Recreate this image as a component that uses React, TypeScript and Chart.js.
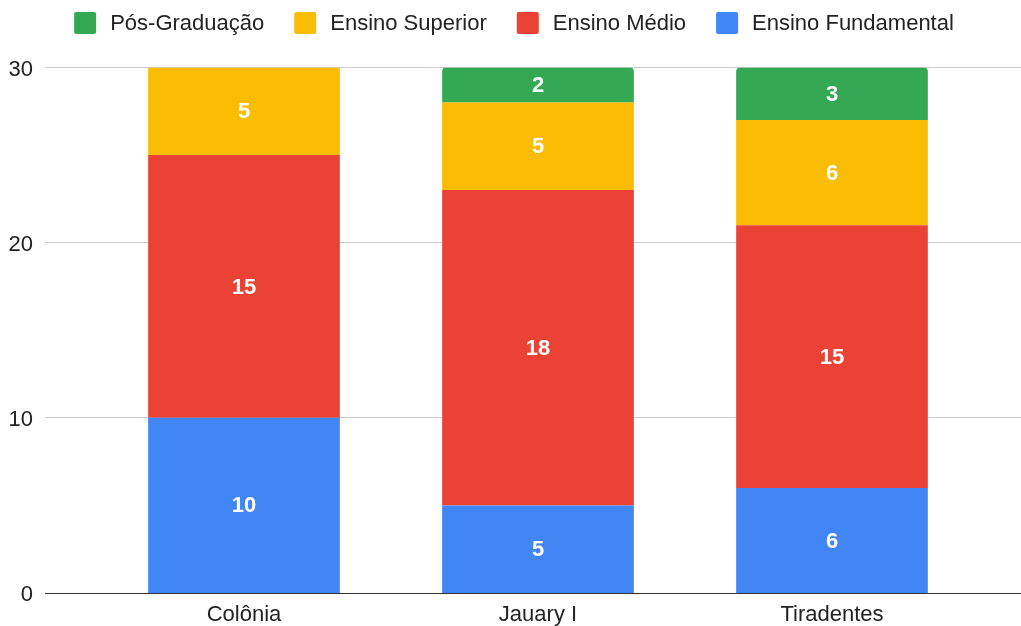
import { useEffect, useRef } from "react";
import { Chart, registerables } from "chart.js";

Chart.register(...registerables);

const categories = ["Colônia", "Jauary I", "Tiradentes"];
const seriesNames = ["Ensino Fundamental", "Ensino Médio", "Ensino Superior", "Pós-Graduação"];
const ensinoFundamental = [10, 5, 6];
const ensinoMedio = [15, 18, 15];
const ensinoSuperior = [5, 5, 6];
const posGraduacao: (number | null)[] = [null, 2, 3];
const seriesColors = ["#4285F4", "#EA4335", "#FBBC04", "#34A853"];
const yTickValues = [0, 10, 20, 30];

const FONT = "'Liberation Sans', Arial, sans-serif";
const TEXT = "#222222";

// Horizontal gridlines run wider than the category band, from the tick labels to the edge.
const gridLinesPlugin = {
  id: "wideGrid",
  beforeDatasetsDraw(chart: any) {
    const { ctx } = chart;
    const y = chart.scales.y;
    ctx.save();
    ctx.lineWidth = 1;
    ctx.strokeStyle = "#cccccc";
    y.ticks.forEach((t: any) => {
      if (t.value === 0) return;
      const py = Math.round(y.getPixelForValue(t.value)) - 0.5;
      ctx.beginPath();
      ctx.moveTo(45, py);
      ctx.lineTo(chart.width, py);
      ctx.stroke();
    });
    ctx.restore();
  },
  afterDatasetsDraw(chart: any) {
    const { ctx } = chart;
    const y = chart.scales.y;
    const py = Math.round(y.getPixelForValue(0)) + 0.5;
    ctx.save();
    ctx.lineWidth = 1;
    ctx.strokeStyle = "#333333";
    ctx.beginPath();
    ctx.moveTo(45, py);
    ctx.lineTo(chart.width, py);
    ctx.stroke();
    ctx.restore();
  },
};

// White value labels centred in each stacked segment.
const valueLabelsPlugin = {
  id: "valueLabels",
  afterDatasetsDraw(chart: any) {
    const { ctx } = chart;
    ctx.save();
    ctx.font = `bold 22px ${FONT}`;
    ctx.fillStyle = "#ffffff";
    ctx.textAlign = "center";
    ctx.textBaseline = "middle";
    chart.data.datasets.forEach((ds: any, i: number) => {
      const meta = chart.getDatasetMeta(i);
      meta.data.forEach((bar: any, j: number) => {
        const v = ds.data[j];
        if (v === null || v === undefined || v === 0) return;
        const { x, y, base } = bar.getProps(["x", "y", "base"], true);
        ctx.fillText(String(v), x, (y + base) / 2 + 1);
      });
    });
    ctx.restore();
  },
};

// Legend row across the top, listed from the top of the stack down.
const topLegendPlugin = {
  id: "topLegend",
  afterDraw(chart: any) {
    const { ctx } = chart;
    const box = 22;
    const boxGap = 14;
    const itemGap = 30;
    const centerX = 514;
    const boxTop = 12;
    ctx.save();
    ctx.font = `22px ${FONT}`;
    const items = chart.data.datasets
      .map((ds: any) => ({ label: ds.label as string, color: ds.backgroundColor as string }))
      .reverse();
    const widths = items.map((it: any) => box + boxGap + ctx.measureText(it.label).width);
    const total = widths.reduce((a: number, b: number) => a + b, 0) + itemGap * (items.length - 1);
    let x = centerX - total / 2;
    items.forEach((it: any, k: number) => {
      ctx.fillStyle = it.color;
      ctx.beginPath();
      ctx.roundRect(x, boxTop, box, box, 2);
      ctx.fill();
      ctx.fillStyle = TEXT;
      ctx.textAlign = "left";
      ctx.textBaseline = "middle";
      ctx.fillText(it.label, x + box + boxGap, boxTop + box / 2 + 1);
      x += widths[k] + itemGap;
    });
    ctx.restore();
  },
};

export default function App() {
  const canvasRef = useRef<HTMLCanvasElement | null>(null);

  useEffect(() => {
    if (!canvasRef.current) return;
    const seriesValues = [ensinoFundamental, ensinoMedio, ensinoSuperior, posGraduacao];
    const chart = new Chart(canvasRef.current, {
      type: "bar",
      data: {
        labels: categories,
        datasets: seriesNames.map((name, i) => ({
          label: name,
          data: seriesValues[i],
          backgroundColor: seriesColors[i],
          borderWidth: 0,
          categoryPercentage: 1,
          barPercentage: 0.652,
          borderRadius: i === seriesNames.length - 1 ? { topLeft: 4, topRight: 4, bottomLeft: 0, bottomRight: 0 } : 0,
        })),
      },
      options: {
        responsive: false,
        animation: false,
        layout: { padding: { top: 67.5, right: 42, left: 0, bottom: 0 } },
        plugins: {
          legend: { display: false },
          tooltip: { enabled: false },
        },
        scales: {
          x: {
            stacked: true,
            grid: { display: false, drawTicks: false },
            border: { display: false },
            ticks: { color: TEXT, font: { family: FONT, size: 22 }, padding: 9, maxRotation: 0 },
            afterFit(scale: any) {
              scale.height = 33;
            },
          },
          y: {
            stacked: true,
            min: 0,
            max: 30,
            grid: { display: false, drawTicks: false },
            border: { display: false },
            afterBuildTicks(scale: any) {
              scale.ticks = yTickValues.map((v) => ({ value: v }));
            },
            ticks: { color: TEXT, font: { family: FONT, size: 22 }, padding: 64, labelOffset: 2 },
            afterFit(scale: any) {
              scale.width = 97;
              scale.paddingTop = 0;
              scale.paddingBottom = 0;
            },
          },
        },
      },
      plugins: [gridLinesPlugin, valueLabelsPlugin, topLegendPlugin],
    });
    return () => chart.destroy();
  }, []);

  return (
    <canvas
      ref={canvasRef}
      width={1021}
      height={626}
      style={{ position: "absolute", left: 0, top: 0, display: "block" }}
    />
  );
}
